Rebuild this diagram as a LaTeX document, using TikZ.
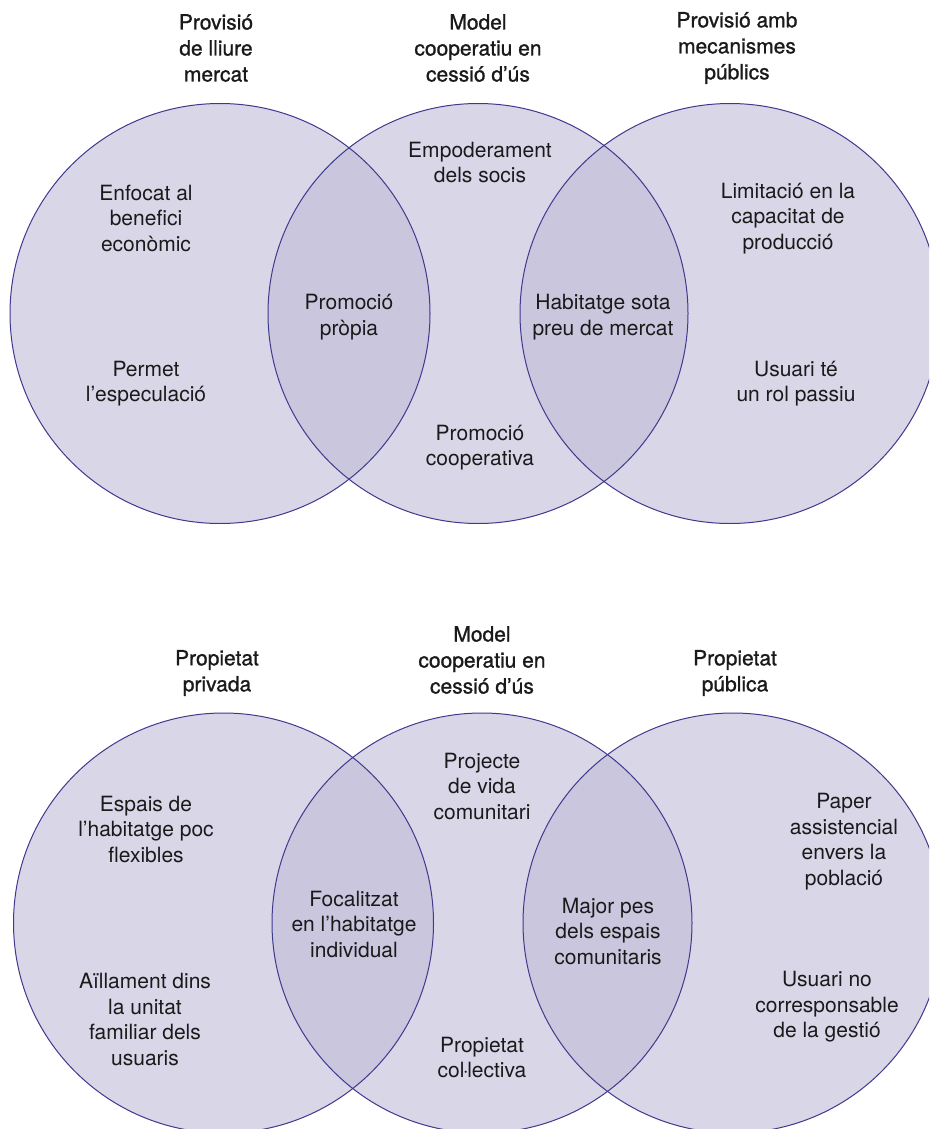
\documentclass[tikz,border=0pt]{standalone}
\usepackage{fontspec}
\setmainfont{TeX Gyre Heros}
\newfontfamily\medfont[FakeBold=1.1]{TeX Gyre Heros}
\definecolor{vennfill}{HTML}{D9D6E8}
\definecolor{lensfill}{HTML}{CAC6DD}
\definecolor{vennline}{HTML}{3E3A8E}
\definecolor{txtcol}{HTML}{1A1A1A}
\tikzset{
  txt/.style={align=center, inner sep=0pt, text=txtcol, font=\fontsize{21}{25.5}\selectfont},
  ttl/.style={align=center, inner sep=0pt, text=txtcol, font=\medfont\fontsize{21}{26}\selectfont},
  ring/.style={draw=vennline, line width=1pt},
}
\begin{document}
\begin{tikzpicture}[x=1pt,y=-1pt]
\useasboundingbox (0,0) rectangle (929,1129);
\clip (0,0) rectangle (929,1129);
\def\R{210}
% centres
\coordinate (A1) at (220,313.5);
\coordinate (A2) at (478,313.5);
\coordinate (A3) at (730,313.5);
\coordinate (B1) at (223.5,923);
\coordinate (B2) at (482,923);
\coordinate (B3) at (733,923);
% base fills
\foreach \c in {A1,A2,A3,B1,B2,B3} { \fill[vennfill] (\c) circle[radius=\R]; }
% lens fills
\begin{scope}\clip (A1) circle[radius=\R]; \fill[lensfill] (A2) circle[radius=\R];\end{scope}
\begin{scope}\clip (A2) circle[radius=\R]; \fill[lensfill] (A3) circle[radius=\R];\end{scope}
\begin{scope}\clip (B1) circle[radius=\R]; \fill[lensfill] (B2) circle[radius=\R];\end{scope}
\begin{scope}\clip (B2) circle[radius=\R]; \fill[lensfill] (B3) circle[radius=\R];\end{scope}
% outlines
\foreach \c in {A1,A2,A3,B1,B2,B3} { \draw[ring] (\c) circle[radius=\R]; }

% top titles
\node[ttl] (tt1) at (216,48) {Provisió\\de lliure\\mercat};
\node[ttl] (tt2) at (478,48) {Model\\cooperatiu en\\cessió d’ús};
\node[ttl] (tt3) at (737,48) {Provisió amb\\mecanismes\\públics};
% top texts
\node[txt] (ta1) at (146,218) {Enfocat al\\benefici\\econòmic};
\node[txt] (ta2) at (146,383.5) {Permet\\l’especulació};
\node[txt] (ta3) at (349,317) {Promoció\\pròpia};
\node[txt] (ta4) at (480,162.5) {Empoderament\\dels socis};
\node[txt] (ta5) at (480,447.5) {Promoció\\cooperativa};
\node[txt] (ta6) at (603,317) {Habitatge sota\\preu de mercat};
\node[txt] (ta7) at (788,218.5) {Limitació en la\\capacitat de\\producció};
\node[txt] (ta8) at (796,383.5) {Usuari té\\un rol passiu};

% bottom titles
\node[ttl] (bt1) at (217,673) {Propietat\\privada};
\node[ttl] (bt2) at (482,660) {Model\\cooperatiu en\\cessió d’ús};
\node[ttl] (bt3) at (735,673) {Propietat\\pública};
% bottom texts
\node[txt] (ba1) at (146,829) {Espais de\\l’habitatge poc\\flexibles};
\node[txt] (ba2) at (145,1019.5) {Aïllament dins\\la unitat\\familiar dels\\usuaris};
\node[txt] (ba3) at (354,924) {Focalitzat\\en l’habitatge\\individual};
\node[txt] (ba4) at (482,786) {Projecte\\de vida\\comunitari};
\node[txt] (ba5) at (482,1057.5) {Propietat\\col\kern-1.5pt·\kern-1.5pt lectiva};
\node[txt] (ba6) at (608,931) {Major pes\\dels espais\\comunitaris};
\node[txt] (ba7) at (844,841.5) {Paper\\assistencial\\envers la\\població};
\node[txt] (ba8) at (827,1007) {Usuari no\\corresponsable\\de la gestió};
\end{tikzpicture}
\end{document}
